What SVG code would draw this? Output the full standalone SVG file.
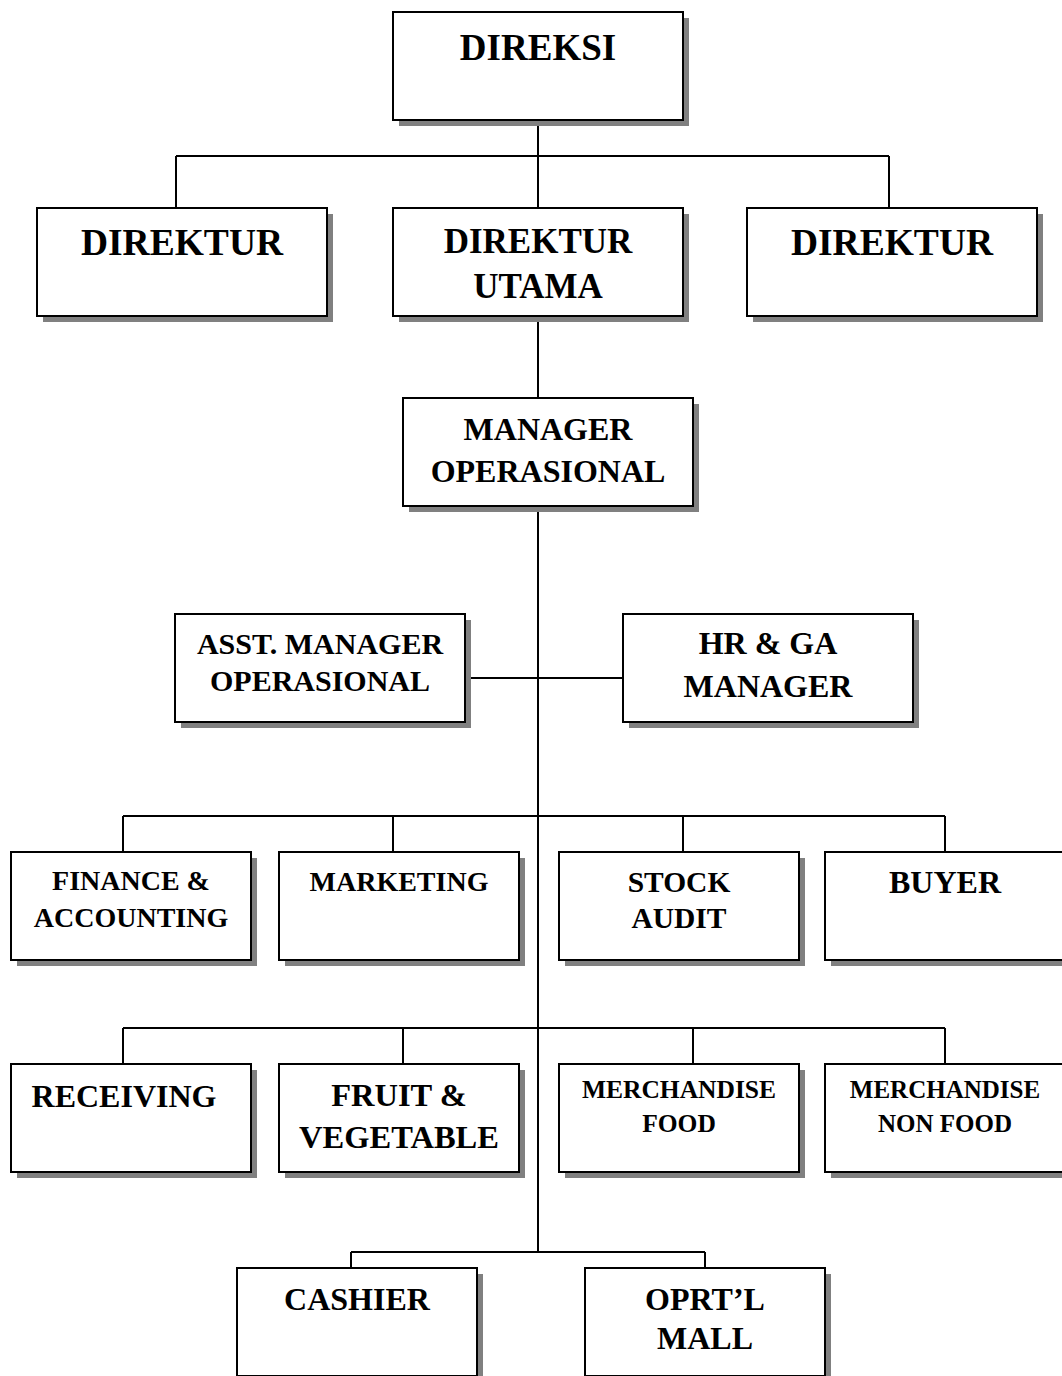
<svg xmlns="http://www.w3.org/2000/svg" width="1062" height="1376" viewBox="0 0 1062 1376">
<style>
.sh{fill:#808080;stroke:none}
.bx{fill:#fff;stroke:#000;stroke-width:2}
.ln{stroke:#000;stroke-width:2;fill:none}
text{font-family:"Liberation Serif","Times New Roman",serif;font-weight:bold;fill:#000;text-anchor:middle}
</style>
<rect width="1062" height="1376" fill="#fff"/>
<g id="connectors" class="ln">
<path d="M538 120V208M176 156H889M176 156V208M889 156V208"/>
<path d="M538 316V398"/>
<path d="M538 506V1252"/>
<path d="M465 678H623"/>
<path d="M123 816H945M123 816V852M393 816V852M683 816V852M945 816V852"/>
<path d="M123 1028H945M123 1028V1064M403 1028V1064M693 1028V1064M945 1028V1064"/>
<path d="M351 1252H705M351 1252V1268M705 1252V1268"/>
</g>
<g id="direksi"><rect class="sh" x="399" y="18" width="290" height="108"/><rect class="bx" x="393" y="12" width="290" height="108"/><text x="538" y="60" font-size="37">DIREKSI</text></g>
<g id="direktur-kiri"><rect class="sh" x="43" y="214" width="290" height="108"/><rect class="bx" x="37" y="208" width="290" height="108"/><text x="182" y="255" font-size="37.5">DIREKTUR</text></g>
<g id="direktur-utama"><rect class="sh" x="399" y="214" width="290" height="108"/><rect class="bx" x="393" y="208" width="290" height="108"/><text x="538" y="253" font-size="35">DIREKTUR</text><text x="538" y="298" font-size="35">UTAMA</text></g>
<g id="direktur-kanan"><rect class="sh" x="753" y="214" width="290" height="108"/><rect class="bx" x="747" y="208" width="290" height="108"/><text x="892" y="255" font-size="37.5">DIREKTUR</text></g>
<g id="manager-operasional"><rect class="sh" x="409" y="404" width="290" height="108"/><rect class="bx" x="403" y="398" width="290" height="108"/><text x="548" y="440" font-size="32">MANAGER</text><text x="548" y="482" font-size="32">OPERASIONAL</text></g>
<g id="asst-manager"><rect class="sh" x="181" y="620" width="290" height="108"/><rect class="bx" x="175" y="614" width="290" height="108"/><text x="320" y="654" font-size="30">ASST. MANAGER</text><text x="320" y="691" font-size="30">OPERASIONAL</text></g>
<g id="hr-ga"><rect class="sh" x="629" y="620" width="290" height="108"/><rect class="bx" x="623" y="614" width="290" height="108"/><text x="768" y="654" font-size="32">HR &amp; GA</text><text x="768" y="697" font-size="32">MANAGER</text></g>
<g id="finance"><rect class="sh" x="17" y="858" width="240" height="108"/><rect class="bx" x="11" y="852" width="240" height="108"/><text x="131" y="890" font-size="28">FINANCE &amp;</text><text x="131" y="927" font-size="28">ACCOUNTING</text></g>
<g id="marketing"><rect class="sh" x="285" y="858" width="240" height="108"/><rect class="bx" x="279" y="852" width="240" height="108"/><text x="399" y="891" font-size="28">MARKETING</text></g>
<g id="stock-audit"><rect class="sh" x="565" y="858" width="240" height="108"/><rect class="bx" x="559" y="852" width="240" height="108"/><text x="679" y="892" font-size="29.5">STOCK</text><text x="679" y="928" font-size="29.5">AUDIT</text></g>
<g id="buyer"><rect class="sh" x="831" y="858" width="240" height="108"/><rect class="bx" x="825" y="852" width="240" height="108"/><text x="945" y="893" font-size="32">BUYER</text></g>
<g id="receiving"><rect class="sh" x="17" y="1070" width="240" height="108"/><rect class="bx" x="11" y="1064" width="240" height="108"/><text x="124" y="1107" font-size="32">RECEIVING</text></g>
<g id="fruit"><rect class="sh" x="285" y="1070" width="240" height="108"/><rect class="bx" x="279" y="1064" width="240" height="108"/><text x="399" y="1106" font-size="32.5">FRUIT &amp;</text><text x="399" y="1148" font-size="32.5">VEGETABLE</text></g>
<g id="merch-food"><rect class="sh" x="565" y="1070" width="240" height="108"/><rect class="bx" x="559" y="1064" width="240" height="108"/><text x="679" y="1098" font-size="25.5">MERCHANDISE</text><text x="679" y="1132" font-size="25.5">FOOD</text></g>
<g id="merch-nonfood"><rect class="sh" x="831" y="1070" width="240" height="108"/><rect class="bx" x="825" y="1064" width="240" height="108"/><text x="945" y="1098" font-size="25">MERCHANDISE</text><text x="945" y="1132" font-size="25">NON FOOD</text></g>
<g id="cashier"><rect class="sh" x="243" y="1274" width="240" height="108"/><rect class="bx" x="237" y="1268" width="240" height="108"/><text x="357" y="1310" font-size="32">CASHIER</text></g>
<g id="oprtl-mall"><rect class="sh" x="591" y="1274" width="240" height="108"/><rect class="bx" x="585" y="1268" width="240" height="108"/><text x="705" y="1310" font-size="32">OPRT’L</text><text x="705" y="1349" font-size="32">MALL</text></g>
</svg>
